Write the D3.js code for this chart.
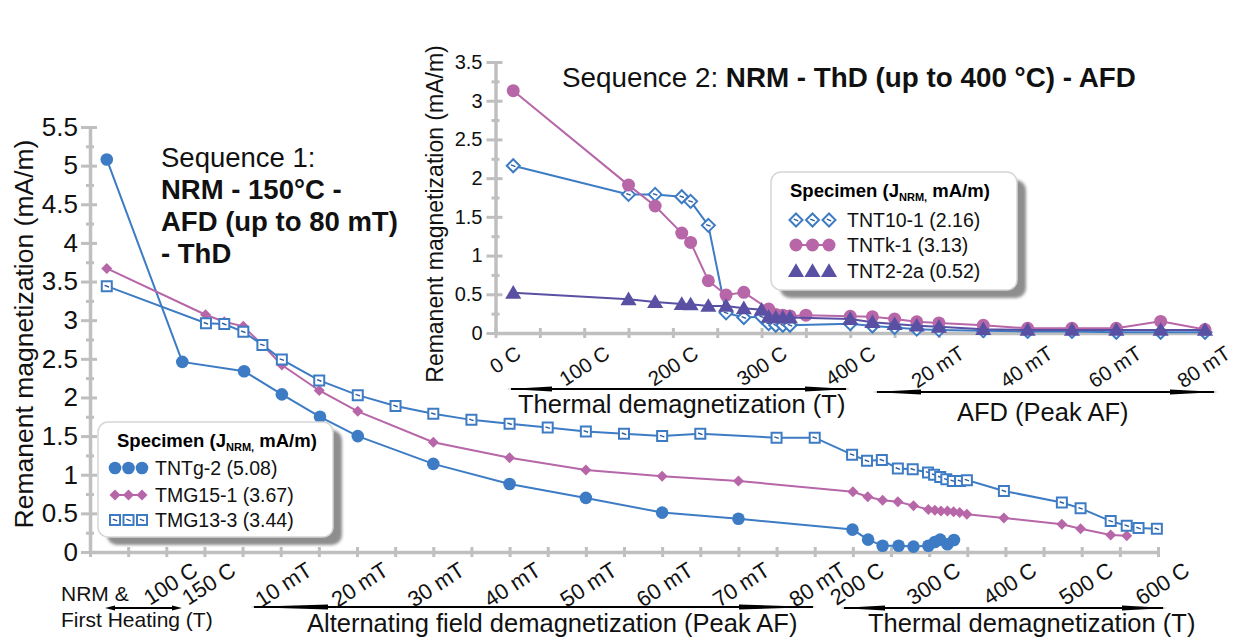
<!DOCTYPE html>
<html>
<head>
<meta charset="utf-8">
<script src="https://cdn.jsdelivr.net/npm/d3@7/dist/d3.min.js"></script>
<style>
  body { margin: 0; background: #fff; }
  svg { font-family: "Liberation Sans", Arial, sans-serif; }
</style>
</head>
<body>
<svg id="chart" width="1248" height="641"></svg>
<script>
// ---------- Sequence 1 (main chart) ----------
// x = position along the mixed step axis (one unit per tick mark)
const mainYTicks = [0, 0.5, 1, 1.5, 2, 2.5, 3, 3.5, 4, 4.5, 5, 5.5];
const mainXLabels = ["100 C", "150 C", "10 mT", "20 mT", "30 mT", "40 mT", "50 mT", "60 mT", "70 mT", "80 mT",
                     "200 C", "300 C", "400 C", "500 C", "600 C"];
const mainXLabelPos = [2, 3, 5, 7, 9, 11, 13, 15, 17, 19, 20, 22, 24, 26, 28];

const tntg2X = [0.44, 2.42, 4.04, 5.03, 6.03, 7.02, 9, 11, 13, 15, 17, 19.99, 20.4, 20.78, 21.2, 21.59, 21.98, 22.15, 22.29, 22.48, 22.65];
const tntg2Y = [5.08, 2.46, 2.34, 2.04, 1.75, 1.50, 1.14, 0.88, 0.70, 0.51, 0.43, 0.29, 0.16, 0.08, 0.08, 0.07, 0.08, 0.13, 0.16, 0.10, 0.155];

const tmg151X = [0.44, 3.03, 3.52, 4.02, 4.52, 5.03, 6.01, 7.02, 9, 11, 13, 15, 17, 20, 20.39, 20.78, 21.18, 21.59, 21.98,
                 22.15, 22.31, 22.48, 22.64, 22.8, 22.99, 23.96, 25.48, 25.97, 26.76, 27.18];
const tmg151Y = [3.67, 3.07, 2.98, 2.92, 2.68, 2.42, 2.09, 1.82, 1.42, 1.22, 1.06, 0.98, 0.92, 0.78, 0.715, 0.67, 0.65, 0.60, 0.55,
                 0.54, 0.53, 0.53, 0.52, 0.51, 0.49, 0.44, 0.36, 0.30, 0.22, 0.21];

const tmg133X = [0.44, 3.04, 3.52, 4.02, 4.52, 5.03, 6.01, 7.02, 8.01, 9, 10, 11, 12, 13, 14, 15, 16, 18, 19, 19.98, 20.37, 20.76,
                 21.18, 21.57, 21.97, 22.13, 22.29, 22.45, 22.62, 22.81, 22.99, 23.96, 25.48, 25.97, 26.76, 27.18, 27.49, 27.97];
const tmg133Y = [3.44, 2.96, 2.95, 2.85, 2.68, 2.49, 2.22, 2.03, 1.89, 1.79, 1.71, 1.66, 1.61, 1.56, 1.53, 1.50, 1.53, 1.48, 1.48, 1.26, 1.18, 1.19,
                 1.08, 1.07, 1.03, 1.00, 0.97, 0.94, 0.92, 0.92, 0.93, 0.79, 0.64, 0.565, 0.40, 0.34, 0.31, 0.30];

// ---------- Sequence 2 (inset) ----------
// x = temperature (C) up to 400, then 400 + 5 * peak AF (mT)
const insetYTicks = [0, 0.5, 1, 1.5, 2, 2.5, 3, 3.5];
const insetXLabels = ["0 C", "100 C", "200 C", "300 C", "400 C", "20 mT", "40 mT", "60 mT", "80 mT"];
const insetXLabelPos = [0, 100, 200, 300, 400, 500, 600, 700, 800];

const tnt101X = [20, 150, 180, 210, 220, 240, 260, 280, 300, 308, 316, 324, 332, 400, 425, 450, 475, 500, 550, 600, 650, 700, 750, 800];
const tnt101Y = [2.16, 1.79, 1.79, 1.76, 1.70, 1.39, 0.26, 0.20, 0.21, 0.12, 0.10, 0.10, 0.10, 0.12, 0.09, 0.07, 0.05, 0.04, 0.03, 0.02, 0.02, 0.01, 0.01, 0.01];

const tntk1X = [20, 150, 180, 210, 220, 240, 260, 280, 308, 316, 324, 332, 350, 400, 425, 450, 475, 500, 550, 600, 650, 700, 750, 800];
const tntk1Y = [3.13, 1.91, 1.64, 1.29, 1.17, 0.675, 0.49, 0.525, 0.31, 0.24, 0.23, 0.22, 0.23, 0.215, 0.21, 0.18, 0.145, 0.13, 0.10, 0.06, 0.06, 0.06, 0.15, 0.045];

const tnt22aX = [20, 150, 180, 210, 220, 240, 260, 280, 300, 308, 316, 324, 332, 400, 425, 450, 475, 500, 550, 600, 650, 700, 750, 800];
const tnt22aY = [0.52, 0.435, 0.40, 0.375, 0.37, 0.35, 0.35, 0.32, 0.30, 0.21, 0.20, 0.20, 0.20, 0.18, 0.14, 0.115, 0.095, 0.08, 0.05, 0.04, 0.04, 0.04, 0.04, 0.04];

// ---------- styling ----------
const BLUE = "#3d7cc4", PINK = "#b766a8", PURPLE = "#5a50a3", AXIS = "#bfbfbf";

const svg = d3.select("#chart");
const defs = svg.append("defs");
defs.append("filter").attr("id", "soft").attr("x", "-10%").attr("y", "-10%").attr("width", "130%").attr("height", "130%")
  .append("feGaussianBlur").attr("stdDeviation", 1.5);

function markerPath(shape, s) {
  if (shape === "circle") return d3.symbol(d3.symbolCircle, Math.PI * s * s)();
  if (shape === "diamond") return `M0,${-s}L${s},0L0,${s}L${-s},0Z`;
  if (shape === "square") return `M${-s},${-s}H${s}V${s}H${-s}Z`;
  if (shape === "triangle") return `M0,${-s * 1.1}L${s * 1.15},${s * 0.85}L${-s * 1.15},${s * 0.85}Z`;
}

function drawMarker(sel, spec) {
  sel.append("path").attr("d", markerPath(spec.shape, spec.size))
    .attr("fill", spec.fill).attr("stroke", spec.stroke || "none").attr("stroke-width", spec.sw || 0);
  if (spec.dash) {
    sel.append("line").attr("x1", -2.2).attr("y1", -0.8).attr("x2", 2.2).attr("y2", 0.8)
      .attr("stroke", "#2a5a9a").attr("stroke-width", 1.4);
  }
}

function drawSeries(g, xs, ys, xs_, ys_, spec) {
  const pts = d3.zip(xs, ys);
  g.append("path").datum(pts)
    .attr("d", d3.line().x(d => xs_(d[0])).y(d => ys_(d[1])))
    .attr("fill", "none").attr("stroke", spec.color).attr("stroke-width", 2);
  g.selectAll(null).data(pts).join("g")
    .attr("transform", d => `translate(${xs_(d[0])},${ys_(d[1])})`)
    .each(function() { drawMarker(d3.select(this), spec); });
}

function drawAxes(g, x, y, yTicks, xTicks, yFont, pad) {
  const ay = g.append("g").attr("transform", `translate(${x.range()[0]},0)`)
    .call(d3.axisLeft(y).tickValues(yTicks).tickSize(0).tickSizeOuter(0).tickPadding(pad).tickFormat(d => String(d)));
  ay.select(".domain").attr("stroke", AXIS).attr("stroke-width", 3.5);
  ay.selectAll(".tick line").attr("x1", -9).attr("x2", 7).attr("stroke", AXIS).attr("stroke-width", 3);
  ay.selectAll(".tick text").attr("font-size", yFont).attr("fill", "#111").attr("font-family", null);
  const minor = d3.range(yTicks.length - 1).map(i => (yTicks[i] + yTicks[i + 1]) / 2);
  const am = g.append("g").attr("transform", `translate(${x.range()[0]},0)`)
    .call(d3.axisLeft(y).tickValues(minor).tickSize(0).tickFormat(""));
  am.select(".domain").remove();
  am.selectAll(".tick line").attr("x1", -4).attr("x2", 4).attr("stroke", AXIS).attr("stroke-width", 3);

  const ax = g.append("g").attr("transform", `translate(0,${y(0)})`)
    .call(d3.axisBottom(x).tickValues(xTicks).tickSize(0).tickSizeOuter(0).tickFormat(""));
  ax.select(".domain").attr("stroke", AXIS).attr("stroke-width", 3.5);
  ax.selectAll(".tick line").attr("y1", -5).attr("y2", 5).attr("stroke", AXIS).attr("stroke-width", 3);
}

function drawXLabels(g, labels, pos, x, dx, yBase, size) {
  g.selectAll(null).data(d3.zip(labels, pos)).join("text")
    .attr("transform", d => `translate(${x(d[1]) + dx},${yBase}) rotate(-33)`)
    .attr("text-anchor", "end").attr("font-size", size).attr("fill", "#111")
    .text(d => d[0]);
}

function drawArrow(g, x1, x2, y, head) {
  g.append("line").attr("x1", x1 + 4).attr("x2", x2 - 4).attr("y1", y).attr("y2", y)
    .attr("stroke", "#000").attr("stroke-width", 2);
  g.append("path").attr("d", `M${x1},${y}L${x1 + head},${y - 2.6}L${x1 + head},${y + 2.6}Z`).attr("fill", "#000");
  g.append("path").attr("d", `M${x2},${y}L${x2 - head},${y - 2.6}L${x2 - head},${y + 2.6}Z`).attr("fill", "#000");
}

function drawLegend(g, x, y, w, h, entries, markX, textX, rowY) {
  g.append("rect").attr("x", x + 9).attr("y", y + 8).attr("width", w).attr("height", h).attr("rx", 10)
    .attr("fill", "#8e8e8e").attr("filter", "url(#soft)");
  g.append("rect").attr("x", x).attr("y", y).attr("width", w).attr("height", h).attr("rx", 10)
    .attr("fill", "#fff").attr("stroke", "#d6d6d6").attr("stroke-width", 1.5);
  const t = g.append("text").attr("x", x + 19).attr("y", y + 25).attr("font-size", 18.5).attr("font-weight", "bold");
  t.append("tspan").text("Specimen (J");
  t.append("tspan").attr("font-size", 11).attr("dy", 4).text("NRM,");
  t.append("tspan").attr("dy", -4).text(" mA/m)");
  entries.forEach((e, i) => {
    const cy = rowY[i];
    if (e.spec.joined) {
      g.append("line").attr("x1", markX[0]).attr("x2", markX[2]).attr("y1", cy).attr("y2", cy)
        .attr("stroke", e.spec.color).attr("stroke-width", 2);
    }
    markX.forEach(mx => drawMarker(g.append("g").attr("transform", `translate(${mx},${cy})`), e.spec));
    g.append("text").attr("x", textX).attr("y", cy + 7).attr("font-size", 19.5).attr("fill", "#111").text(e.name);
  });
}

// ---------- main chart ----------
const xMain = d3.scaleLinear().domain([0, 28]).range([90, 1158]);
const yMain = d3.scaleLinear().domain([0, 5.5]).range([552, 127]);
const gMain = svg.append("g");
drawAxes(gMain, xMain, yMain, mainYTicks, d3.range(0, 29), 26, 12);
drawXLabels(gMain, mainXLabels, mainXLabelPos, xMain, 33, 574, 22);

gMain.append("text").attr("transform", "translate(33,334) rotate(-90)").attr("text-anchor", "middle")
  .attr("font-size", 26.5).attr("fill", "#111").text("Remanent magnetization (mA/m)");

const specTNTg2 = { color: BLUE, shape: "circle", size: 6.3, fill: BLUE };
const specTMG151 = { color: PINK, shape: "diamond", size: 5.5, fill: PINK, joined: true };
const specTMG133 = { color: BLUE, shape: "square", size: 5, fill: "#fff", stroke: BLUE, sw: 2, dash: true };

drawSeries(gMain, tntg2X, tntg2Y, xMain, yMain, specTNTg2);
drawSeries(gMain, tmg151X, tmg151Y, xMain, yMain, specTMG151);
drawSeries(gMain, tmg133X, tmg133Y, xMain, yMain, specTMG133);

const seq1 = gMain.append("g").attr("font-size", 27.5).attr("fill", "#111");
seq1.append("text").attr("x", 161).attr("y", 167).text("Sequence 1:");
seq1.append("text").attr("x", 161).attr("y", 199).attr("font-weight", "bold").text("NRM - 150\u00b0C -");
seq1.append("text").attr("x", 161).attr("y", 231).attr("font-weight", "bold").text("AFD (up to 80 mT)");
seq1.append("text").attr("x", 161).attr("y", 263).attr("font-weight", "bold").text("- ThD");

drawLegend(gMain, 98, 422, 235, 115,
  [{ name: "TNTg-2 (5.08)", spec: specTNTg2 }, { name: "TMG15-1 (3.67)", spec: specTMG151 }, { name: "TMG13-3 (3.44)", spec: specTMG133 }],
  [115, 128.5, 142], 155, [468, 495, 520]);

// bottom annotations
const ann = svg.append("g").attr("fill", "#111");
ann.append("text").attr("x", 61).attr("y", 601).attr("font-size", 21).text("NRM &");
ann.append("text").attr("x", 61).attr("y", 627).attr("font-size", 21).text("First Heating (T)");
ann.append("text").attr("x", 307).attr("y", 632).attr("font-size", 25.5).text("Alternating field demagnetization (Peak AF)");
ann.append("text").attr("x", 868).attr("y", 632).attr("font-size", 25.5).text("Thermal demagnetization (T)");
drawArrow(ann, 105, 182, 608, 10);
drawArrow(ann, 250, 817, 607, 78);
drawArrow(ann, 840, 1167, 608, 45);

// ---------- inset ----------
const xIn = d3.scaleLinear().domain([0, 800]).range([495.5, 1205]);
const yIn = d3.scaleLinear().domain([0, 3.5]).range([333, 62]);
const gIn = svg.append("g");
drawAxes(gIn, xIn, yIn, insetYTicks, d3.range(0, 801, 50), 20, 13);
drawXLabels(gIn, insetXLabels, insetXLabelPos, xIn, 27, 357, 20.5);

gIn.append("text").attr("transform", "translate(443,214) rotate(-90)").attr("text-anchor", "middle")
  .attr("font-size", 23).attr("fill", "#111").text("Remanent magnetization (mA/m)");

const specTNT101 = { color: BLUE, shape: "diamond", size: 6.5, fill: "#fff", stroke: BLUE, sw: 2, dash: true };
const specTNTk1 = { color: PINK, shape: "circle", size: 6.5, fill: PINK, joined: true };
const specTNT22a = { color: PURPLE, shape: "triangle", size: 7, fill: PURPLE };

drawSeries(gIn, tnt101X, tnt101Y, xIn, yIn, specTNT101);
drawSeries(gIn, tntk1X, tntk1Y, xIn, yIn, specTNTk1);
drawSeries(gIn, tnt22aX, tnt22aY, xIn, yIn, specTNT22a);

const seq2 = gIn.append("text").attr("x", 562).attr("y", 87).attr("font-size", 27.8).attr("fill", "#111");
seq2.append("tspan").text("Sequence 2: ");
seq2.append("tspan").attr("font-weight", "bold").text("NRM - ThD (up to 400 \u00b0C) - AFD");

drawLegend(gIn, 771, 172, 246, 118,
  [{ name: "TNT10-1 (2.16)", spec: specTNT101 }, { name: "TNTk-1 (3.13)", spec: specTNTk1 }, { name: "TNT2-2a (0.52)", spec: specTNT22a }],
  [796, 812.5, 829], 847, [220, 245, 271]);

const ann2 = svg.append("g").attr("fill", "#111");
ann2.append("text").attr("x", 518).attr("y", 413).attr("font-size", 25.5).text("Thermal demagnetization (T)");
ann2.append("text").attr("x", 957).attr("y", 421).attr("font-size", 25.5).text("AFD (Peak AF)");
drawArrow(ann2, 507, 850, 389, 45);
drawArrow(ann2, 873, 1218, 392, 48);
</script>
</body>
</html>
